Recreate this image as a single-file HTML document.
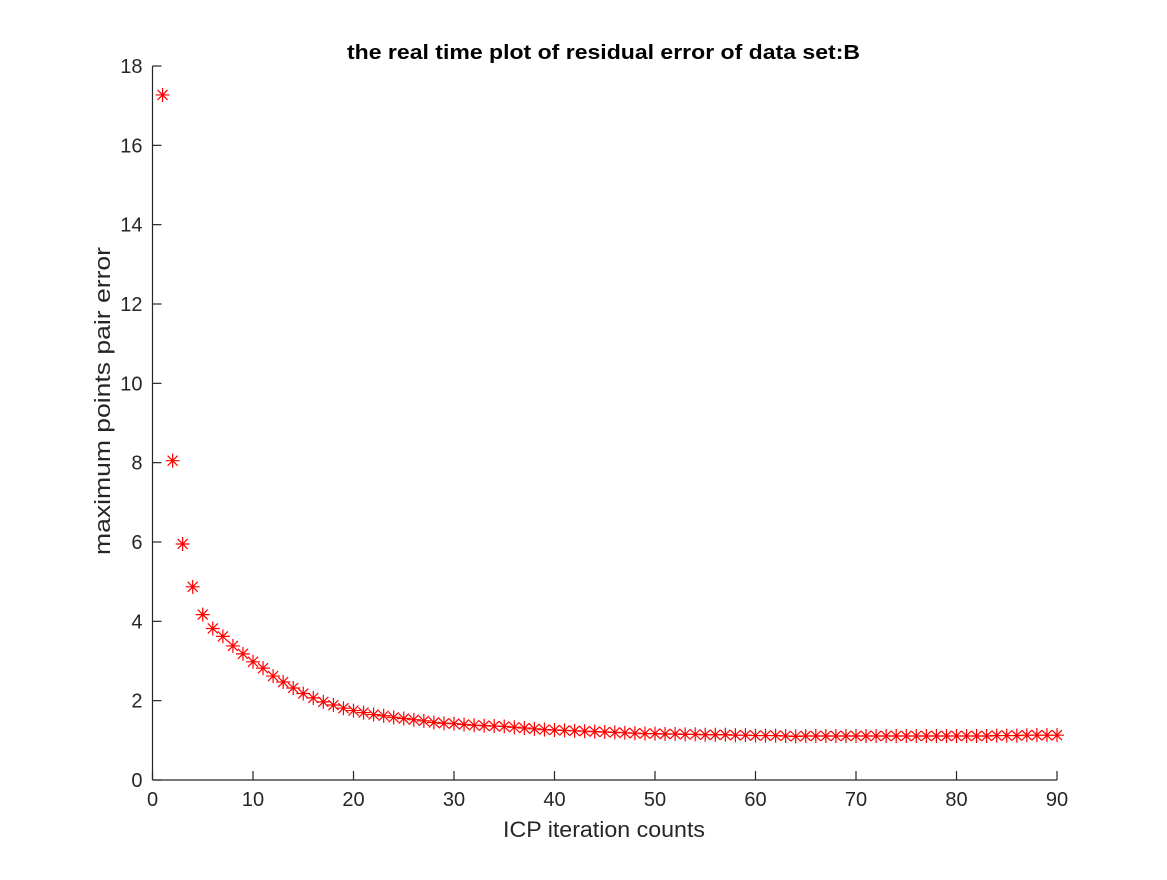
<!DOCTYPE html>
<html><head><meta charset="utf-8"><style>
html,body{margin:0;padding:0;background:#fff;}
svg text{font-family:"Liberation Sans",sans-serif;fill:#262626;}
</style></head><body>
<svg width="1167" height="875" viewBox="0 0 1167 875" xmlns="http://www.w3.org/2000/svg">
<rect width="1167" height="875" fill="#fff"/>
<text x="603.5" y="59" font-size="20" font-weight="bold" text-anchor="middle" textLength="513" lengthAdjust="spacingAndGlyphs" fill="#000" style="fill:#000">the real time plot of residual error of data set:B</text>
<g id="axes"></g>
<g id="marks"></g>
<text x="604" y="837" font-size="22" text-anchor="middle" textLength="202" lengthAdjust="spacingAndGlyphs">ICP iteration counts</text>
<text transform="translate(110,401) rotate(-90)" font-size="22" text-anchor="middle" textLength="308" lengthAdjust="spacingAndGlyphs">maximum points pair error</text>
</svg>
<script>
const xTicks=[0,10,20,30,40,50,60,70,80,90];
const yTicks=[0,2,4,6,8,10,12,14,16,18];
const errors=[17.27,8.05,5.95,4.87,4.17,3.82,3.62,3.38,3.18,2.98,2.82,2.62,2.47,2.32,2.18,2.07,1.97,1.89,1.81,1.75,1.70,1.65,1.62,1.58,1.55,1.52,1.49,1.45,1.43,1.42,1.40,1.38,1.37,1.36,1.35,1.33,1.31,1.29,1.27,1.26,1.25,1.24,1.23,1.22,1.21,1.20,1.19,1.18,1.17,1.17,1.16,1.16,1.15,1.15,1.14,1.14,1.14,1.13,1.13,1.12,1.12,1.12,1.11,1.10,1.11,1.11,1.11,1.11,1.11,1.11,1.11,1.11,1.11,1.11,1.11,1.11,1.11,1.11,1.11,1.11,1.11,1.11,1.11,1.12,1.12,1.12,1.13,1.13,1.13,1.13];
const NS='http://www.w3.org/2000/svg';
const X0=152.5,X1=1057,Y0=780,Y1=66;
const xs=v=>X0+(v-0)/90*(X1-X0);
const ys=v=>Y0-(v-0)/18*(Y0-Y1);
function mk(t,a,p){const e=document.createElementNS(NS,t);for(const k in a)e.setAttribute(k,a[k]);p.appendChild(e);return e;}
const ax=document.getElementById('axes');
const xl=mk('line',{x1:X0,y1:Y0,x2:X1,y2:Y0,stroke:'#262626','stroke-width':1.2},ax);


const yl=mk('line',{x1:X0,y1:Y0,x2:X0,y2:Y1,stroke:'#262626','stroke-width':1.2},ax);


xTicks.forEach(v=>{
 const t=mk('line',{x1:xs(v),y1:Y0,x2:xs(v),y2:Y0-9,stroke:'#262626','stroke-width':1.2},ax);
 
 
 const l=mk('text',{x:xs(v),y:Y0+26,'font-size':20,'text-anchor':'middle'},ax);
 
 
 l.textContent=v;
});
yTicks.forEach(v=>{
 const t=mk('line',{x1:X0,y1:ys(v),x2:X0+9,y2:ys(v),stroke:'#262626','stroke-width':1.2},ax);
 
 
 const l=mk('text',{x:X0-10,y:ys(v)+7,'font-size':20,'text-anchor':'end'},ax);
 
 
 l.textContent=v;
});
const mg=document.getElementById('marks');
errors.forEach((v,i)=>{
 const cx=xs(i+1),cy=ys(v),r=7,d=5;
 const g=mk('path',{d:`M${cx-r},${cy}H${cx+r}M${cx},${cy-r}V${cy+r}M${cx-d},${cy-d}L${cx+d},${cy+d}M${cx-d},${cy+d}L${cx+d},${cy-d}`,stroke:'#ff0000','stroke-width':1.2,fill:'none'},mg);
 
 
});
</script>
</body></html>
